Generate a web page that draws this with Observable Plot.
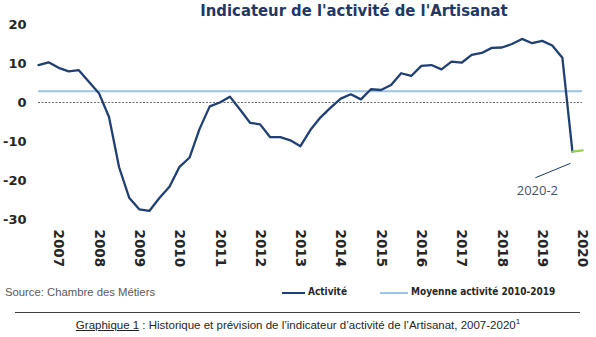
<!DOCTYPE html>
<html><head><meta charset="utf-8">
<script src="https://cdn.jsdelivr.net/npm/d3@7"></script>
<script src="https://cdn.jsdelivr.net/npm/@observablehq/plot@0.6"></script>
<style>
body{margin:0;background:#fff;width:596px;height:337px;overflow:hidden;position:relative;font-family:"Liberation Sans",Arial,sans-serif;}
#title{height:22px;line-height:22px;padding-left:112px;text-align:center;font-weight:bold;font-size:16.5px;font-family:"Liberation Sans Narrow","DejaVu Sans Condensed",sans-serif;color:#1f3864;white-space:nowrap;}
#chart svg{display:block;overflow:visible;}
.abs{position:absolute;white-space:nowrap;}
#source{left:5px;top:286px;font-size:11.3px;color:#595959;}
.leg{top:286px;font-size:10px;font-weight:bold;font-family:"Liberation Sans Narrow","DejaVu Sans Condensed",sans-serif;color:#262626;}
.legline{position:absolute;height:2px;top:292px;}
#rule{left:15px;top:312px;width:565px;height:1px;background:#404040;}
#caption{left:0;width:596px;top:317px;text-align:center;font-size:11.5px;color:#262626;}
#caption u{text-decoration:underline;}
</style></head>
<body>
<div id="title">Indicateur de l'activité de l'Artisanat</div>
<div id="chart"></div>
<div class="abs" id="source">Source: Chambre des Métiers</div>
<div class="legline" id="l1" style="left:282px;width:23px;background:#203f72;"></div>
<div class="abs leg" style="left:308px;">Activité</div>
<div class="legline" id="l2" style="left:380px;width:28px;background:#9dc3e6;"></div>
<div class="abs leg" style="left:411px;">Moyenne activité 2010-2019</div>
<div class="abs" id="rule"></div>
<div class="abs" id="caption"><u>Graphique 1</u> : Historique et prévision de l’indicateur d’activité de l’Artisanat, 2007-2020<sup style="font-size:8px;">1</sup></div>
<script>
// Quarterly periods 2007-T1 .. 2020-T2 (position = year + (quarter-1)/4)
const years = [2007,2008,2009,2010,2011,2012,2013,2014,2015,2016,2017,2018,2019,2020];
const quartersPerYear = [4,4,4,4,4,4,4,4,4,4,4,4,4,2];
const activite = [
  9.6,10.3,8.9,8.0,
  8.3,5.3,2.4,-3.7,
  -16.6,-24.4,-27.4,-27.8,
  -24.5,-21.6,-16.5,-14.1,
  -6.7,-1.0,0.0,1.5,
  -1.8,-5.2,-5.6,-8.9,
  -8.9,-9.7,-11.2,-7.0,
  -3.8,-1.3,1.0,2.1,
  0.8,3.4,3.2,4.5,
  7.5,6.8,9.4,9.6,
  8.5,10.5,10.2,12.2,
  12.7,14.0,14.1,15.0,
  16.3,15.2,15.8,14.6,
  11.5,-12.6
];
const prevPeriods = [2020.25, 2020.5];
const prevValues = [-12.6, -12.3];
const moyenne = 2.9;
const yTicks = [20,10,0,-10,-20,-30];
const yearLabels = ["2007","2008","2009","2010","2011","2012","2013","2014","2015","2016","2017","2018","2019","2020"];
const annotLabel = "2020-2";

const periods = [];
years.forEach((y, i) => { for (let q = 0; q < quartersPerYear[i]; q++) periods.push(y + q / 4); });
const data = activite.map((v, i) => ({t: periods[i], v}));
const prev = prevValues.map((v, i) => ({t: prevPeriods[i], v}));
const yearTickPos = yearLabels.map(s => +s + 0.5);

const navy = "#203f72";
const chart = Plot.plot({
  width: 596, height: 253,
  marginLeft: 38, marginRight: 14, marginTop: 2, marginBottom: 56,
  style: {overflow: "visible", background: "transparent"},
  x: {type: "linear", domain: [2007, 2020.5], axis: null},
  y: {domain: [-30, 20], axis: null},
  marks: [
    Plot.ruleY([0], {stroke: "#595959", strokeWidth: 0.9, strokeDasharray: "2,1.5"}),
    Plot.ruleY([moyenne], {stroke: "#9dc3e6", strokeWidth: 2}),
    Plot.line(data, {x: "t", y: "v", stroke: navy, strokeWidth: 2.3, strokeLinejoin: "round"}),
    Plot.line(prev, {x: "t", y: "v", stroke: "#92d050", strokeWidth: 2.3}),
    Plot.axisY(yTicks, {tickSize: 0, tickPadding: 12, tickFormat: d => String(d), fontSize: 13, fontWeight: "bold", fill: "#262626", fontFamily: "DejaVu Sans"}),
    Plot.axisX(yearTickPos, {tickSize: 0, tickPadding: 10, tickRotate: 90, tickFormat: (d, i) => yearLabels[i], fontSize: 13.5, fontWeight: "bold", fill: "#262626", fontFamily: "DejaVu Sans"}),
    Plot.link([{x1: 2019.33, y1: -19.3, x2: 2020.2, y2: -15.6}], {x1: "x1", y1: "y1", x2: "x2", y2: "y2", stroke: "#1f3864", strokeWidth: 1}),
    Plot.text([{x: 2019.38, y: -22.7}], {x: "x", y: "y", text: () => annotLabel, fill: "#44546a", fontSize: 13, fontFamily: "Open Sans"})
  ]
});
document.getElementById("chart").appendChild(chart);
</script>
</body></html>
